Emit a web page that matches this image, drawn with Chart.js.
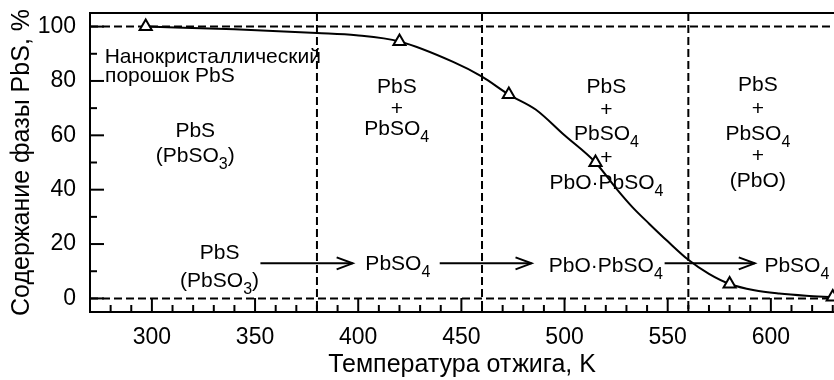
<!DOCTYPE html>
<html><head><meta charset="utf-8">
<script src="https://cdn.jsdelivr.net/npm/chart.js@4"></script>
<style>html,body{margin:0;padding:0;background:#fff}#wrap{width:834px;height:380px;position:relative}</style>
</head><body><div id="wrap"><canvas id="c" width="834" height="380"></canvas></div>
<script>
const FONT = "'Liberation Sans', Arial, Helvetica, sans-serif";

// smooth curve (temperature, K / PbS phase content, %)
const tempCurve  = [297, 340, 380, 399, 420, 446, 460, 473, 486, 500, 515, 525, 533, 541, 550, 560, 570, 580, 592, 604, 617, 630];
const phaseCurve = [100, 99, 97.6, 96.8, 94.5, 87, 81.6, 75, 69.5, 60, 50, 40.5, 33.5, 27.5, 21, 14.2, 9, 5.3, 3, 1.8, 1, 0.5];
// measured points (triangles)
const tempMarks  = [297, 420, 473, 515, 580, 630];
const phaseMarks = [100, 94.5, 75, 50, 5.3, 0.5];

const xTicks = [300, 350, 400, 450, 500, 550, 600];
const yTicks = [0, 20, 40, 60, 80, 100];
const phaseBounds = [380, 460, 560];
const refLevels = [0, 100];

const xTitle = 'Температура отжига, K';
const yTitle = 'Содержание фазы PbS, %';
const noteLines = ['Нанокристаллический', 'порошок PbS'];
const regionTexts = [
  ['PbS', '(PbSO_3)'],
  ['PbS', '+', 'PbSO_4'],
  ['PbS', '+', 'PbSO_4', '+', 'PbO·PbSO_4'],
  ['PbS', '+', 'PbSO_4', '+', '(PbO)']
];
const sequenceTexts = [['PbS', '(PbSO_3)'], ['PbSO_4'], ['PbO·PbSO_4'], ['PbSO_4']];

function segs(str) {
  const parts = str.split(/_(\d)/);
  return parts.map((t, i) => ({t, sub: i % 2 === 1})).filter(s => s.t.length);
}
function rich(ctx, str, px, cy, size, align) {
  const main = size + 'px ' + FONT, sub = Math.round(size * 0.76) + 'px ' + FONT;
  const ss = segs(str);
  let w = 0;
  ss.forEach(s => { ctx.font = s.sub ? sub : main; w += ctx.measureText(s.t).width; });
  let x = align === 'left' ? px : px - w / 2;
  const base = cy + size * 0.358;
  ctx.textAlign = 'left'; ctx.textBaseline = 'alphabetic';
  ss.forEach(s => {
    ctx.font = s.sub ? sub : main;
    ctx.fillText(s.t, x, s.sub ? base + 7 : base);
    x += ctx.measureText(s.t).width;
  });
}

const decor = {
  id: 'decor',
  beforeDatasetsDraw(chart) {
    const {ctx, chartArea: a, scales: {x, y}} = chart;
    const line = (x1, y1, x2, y2) => { ctx.beginPath(); ctx.moveTo(x1, y1); ctx.lineTo(x2, y2); ctx.stroke(); };
    ctx.save();
    ctx.strokeStyle = '#000'; ctx.lineWidth = 2;
    ctx.setLineDash([8, 4]);
    refLevels.forEach(v => { const py = y.getPixelForValue(v); line(a.left, py, a.right, py); });
    phaseBounds.forEach(v => { const px = x.getPixelForValue(v); line(px, a.top, px, a.bottom); });
    ctx.setLineDash([]);
    line(a.left - 1, a.top, a.right, a.top);
    line(a.left, a.top, a.left, a.bottom + 1);
    line(a.left - 1, a.bottom, a.right, a.bottom);
    for (let v = 280; v <= 630; v += 10) {
      const px = x.getPixelForValue(v);
      line(px, a.bottom, px, a.bottom - (v % 50 === 0 ? 14 : 7));
    }
    for (let v = 0; v <= 100; v += 10) {
      const py = y.getPixelForValue(v);
      line(a.left, py, a.left + (v % 20 === 0 ? 14 : 7), py);
    }
    ctx.restore();
  },
  afterDatasetsDraw(chart) {
    const {ctx, scales: {x, y}} = chart;
    ctx.save();
    ctx.fillStyle = '#000'; ctx.strokeStyle = '#000'; ctx.lineWidth = 2;
    const S = 21;
    ctx.font = S + 'px ' + FONT; ctx.textAlign = 'left'; ctx.textBaseline = 'alphabetic';
    ctx.fillText(noteLines[0], x.getPixelForValue(277.1), y.getPixelForValue(86.6));
    ctx.fillText(noteLines[1], x.getPixelForValue(277.3), y.getPixelForValue(79.6));
    const regX = [321, 418.7, 520.3, 593.7];
    const regY = [[62.3, 52.8], [78.5, 70.1, 62.7], [78.5, 69.8, 61, 52.1, 42.9], [79.2, 70.3, 61, 52.8, 43.6]];
    regionTexts.forEach((lines, i) => lines.forEach((t, j) => rich(ctx, t, x.getPixelForValue(regX[i]), y.getPixelForValue(regY[i][j]), S)));
    const seqX = [332.8, 419.2, 520, 612.6];
    const seqY = [[17.2, 7.1], [13.2], [12.6], [12.6]];
    sequenceTexts.forEach((lines, i) => lines.forEach((t, j) => rich(ctx, t, x.getPixelForValue(seqX[i]), y.getPixelForValue(seqY[i][j]), S)));
    const arrows = [[352.6, 397.3], [439.5, 484], [548.5, 592.2]];
    const ay = y.getPixelForValue(12.9);
    arrows.forEach(([v1, v2]) => {
      const x1 = x.getPixelForValue(v1), x2 = x.getPixelForValue(v2);
      ctx.beginPath(); ctx.moveTo(x1, ay); ctx.lineTo(x2, ay); ctx.stroke();
      ctx.beginPath(); ctx.moveTo(x2 - 16, ay - 6); ctx.lineTo(x2, ay); ctx.lineTo(x2 - 16, ay + 6); ctx.stroke();
    });
    ctx.restore();
  }
};

new Chart(document.getElementById('c'), {
  type: 'scatter',
  data: {
    datasets: [
      {
        label: 'marks',
        data: tempMarks.map((t, i) => ({x: t, y: phaseMarks[i]})),
        showLine: false, pointStyle: 'triangle', pointRadius: 7, pointHoverRadius: 7,
        pointBorderWidth: 2, pointBorderColor: '#000', pointBackgroundColor: '#fff', order: 0
      },
      {
        label: 'curve',
        data: tempCurve.map((t, i) => ({x: t, y: phaseCurve[i]})),
        showLine: true, borderColor: '#000', borderWidth: 2, pointRadius: 0, pointHoverRadius: 0,
        cubicInterpolationMode: 'monotone', fill: false, order: 1
      }
    ]
  },
  options: {
    responsive: false, animation: false, devicePixelRatio: 1,
    layout: {autoPadding: false, padding: {top: 13, left: 0, right: 0, bottom: 0}},
    plugins: {legend: {display: false}, tooltip: {enabled: false}},
    scales: {
      x: {
        type: 'linear', min: 270, max: 630.6,
        grid: {display: false, drawTicks: false}, border: {display: false},
        afterBuildTicks: s => { s.ticks = xTicks.map(v => ({value: v})); },
        afterFit: s => { s.height = 68; s.paddingLeft = 0; s.paddingRight = 0; },
        ticks: {color: '#000', font: {family: FONT, size: 23}, padding: 12, maxRotation: 0, autoSkip: false},
        title: {display: true, text: xTitle, color: '#000', font: {family: FONT, size: 25}, padding: {top: 0, bottom: 0}}
      },
      y: {
        type: 'linear', min: -5, max: 105,
        grid: {display: false, drawTicks: false}, border: {display: false},
        afterBuildTicks: s => { s.ticks = yTicks.map(v => ({value: v})); },
        afterFit: s => { s.width = 90; s.paddingTop = 0; s.paddingBottom = 0; },
        ticks: {color: '#000', font: {family: FONT, size: 23}, padding: 14, autoSkip: false},
        title: {display: true, text: yTitle, color: '#000', font: {family: FONT, size: 25}, padding: {top: 7, bottom: 0}}
      }
    }
  },
  plugins: [decor]
});
</script></body></html>
